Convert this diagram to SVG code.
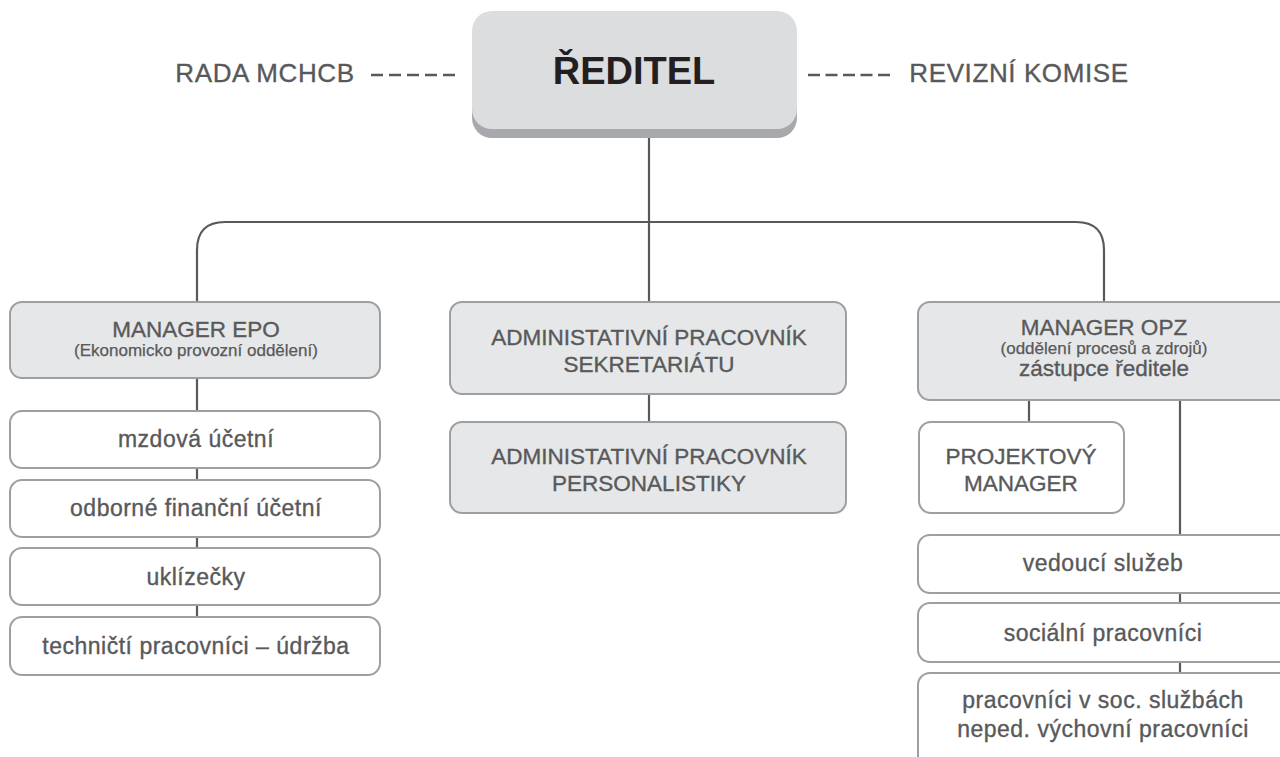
<svg xmlns="http://www.w3.org/2000/svg" width="1280" height="757" viewBox="0 0 1280 757">
<style>
.t{font-family:"Liberation Sans",Arial,sans-serif;fill:#58595b;stroke:#58595b;stroke-width:0.35;text-anchor:middle;font-size:22.5px}
.l{font-size:23px;letter-spacing:0.5px}
.s{font-size:17px;stroke-width:0.25}
.h{font-size:26px;letter-spacing:0.6px}
.g{fill:#e6e7e8;stroke:#9d9fa2;stroke-width:2}
.w{fill:#ffffff;stroke:#9d9fa2;stroke-width:2}
.c{fill:none;stroke:#58595b;stroke-width:2.2}
.d{fill:none;stroke:#58595b;stroke-width:2.5}
</style>
<rect width="1280" height="757" fill="#ffffff"/>
<g id="connectors">
<path class="c" d="M649,138 V222"/>
<path class="c" d="M197,302 V250 Q197,222 225,222 H1076 Q1104,222 1104,250 V302"/>
<path class="c" d="M649,222 V302"/>
<path class="c" d="M649,394 V422"/>
<path class="c" d="M197,378 V411 M197,468 V480 M197,537 V548 M197,605 V617"/>
<path class="c" d="M1029,400 V422"/>
<path class="c" d="M1180,400 V535 M1180,593 V603 M1180,662 V673"/>
<path class="d" stroke-dasharray="12 6" d="M371,75 H455"/>
<path class="d" stroke-dasharray="12 5.5" d="M808,75 H890"/>
</g>
<g id="rada"><text class="t h" x="265" y="82">RADA MCHCB</text></g>
<g id="revizni"><text class="t h" x="1019" y="82">REVIZNÍ KOMISE</text></g>
<g id="reditel">
<rect x="472" y="18" width="325" height="120" rx="20" fill="#a7a9ac"/>
<rect x="472" y="11" width="325" height="118" rx="20" fill="#dcdddf"/>
<text x="634" y="84" text-anchor="middle" style="font-family:'Liberation Sans',Arial,sans-serif;font-weight:bold;font-size:38px;fill:#231f20">ŘEDITEL</text>
</g>
<g id="manager-epo">
<rect class="g" x="10" y="302" width="370" height="76" rx="12"/>
<text class="t" x="196" y="337">MANAGER EPO</text>
<text class="t s" x="196" y="356">(Ekonomicko provozní oddělení)</text>
</g>
<g id="mzdova"><rect class="w" x="10" y="411" width="370" height="57" rx="12"/><text class="t l" x="196" y="447">mzdová účetní</text></g>
<g id="odborne"><rect class="w" x="10" y="480" width="370" height="57" rx="12"/><text class="t l" x="196" y="516">odborné finanční účetní</text></g>
<g id="uklizecky"><rect class="w" x="10" y="548" width="370" height="57" rx="12"/><text class="t l" x="196" y="585">uklízečky</text></g>
<g id="technicti"><rect class="w" x="10" y="617" width="370" height="58" rx="12"/><text class="t l" x="196" y="654">techničtí pracovníci – údržba</text></g>
<g id="sekretariat">
<rect class="g" x="450" y="302" width="396" height="92" rx="12"/>
<text class="t" x="649" y="345">ADMINISTATIVNÍ PRACOVNÍK</text>
<text class="t" x="649" y="372">SEKRETARIÁTU</text>
</g>
<g id="personalistika">
<rect class="g" x="450" y="422" width="396" height="91" rx="12"/>
<text class="t" x="649" y="464">ADMINISTATIVNÍ PRACOVNÍK</text>
<text class="t" x="649" y="491">PERSONALISTIKY</text>
</g>
<g id="manager-opz">
<rect class="g" x="918" y="302" width="380" height="98" rx="12"/>
<text class="t" x="1104" y="335">MANAGER OPZ</text>
<text class="t s" x="1104" y="354">(oddělení procesů a zdrojů)</text>
<text class="t" x="1104" y="376">zástupce ředitele</text>
</g>
<g id="projektovy">
<rect class="w" x="919" y="422" width="205" height="91" rx="12"/>
<text class="t" x="1021" y="464">PROJEKTOVÝ</text>
<text class="t" x="1021" y="491">MANAGER</text>
</g>
<g id="vedouci"><rect class="w" x="918" y="535" width="380" height="58" rx="12"/><text class="t l" x="1103" y="571">vedoucí služeb</text></g>
<g id="socialni"><rect class="w" x="918" y="603" width="380" height="59" rx="12"/><text class="t l" x="1103" y="641">sociální pracovníci</text></g>
<g id="pracovnici">
<rect class="w" x="918" y="673" width="380" height="100" rx="12"/>
<text class="t l" x="1103" y="708">pracovníci v soc. službách</text>
<text class="t l" x="1103" y="737">neped. výchovní pracovníci</text>
</g>
</svg>
